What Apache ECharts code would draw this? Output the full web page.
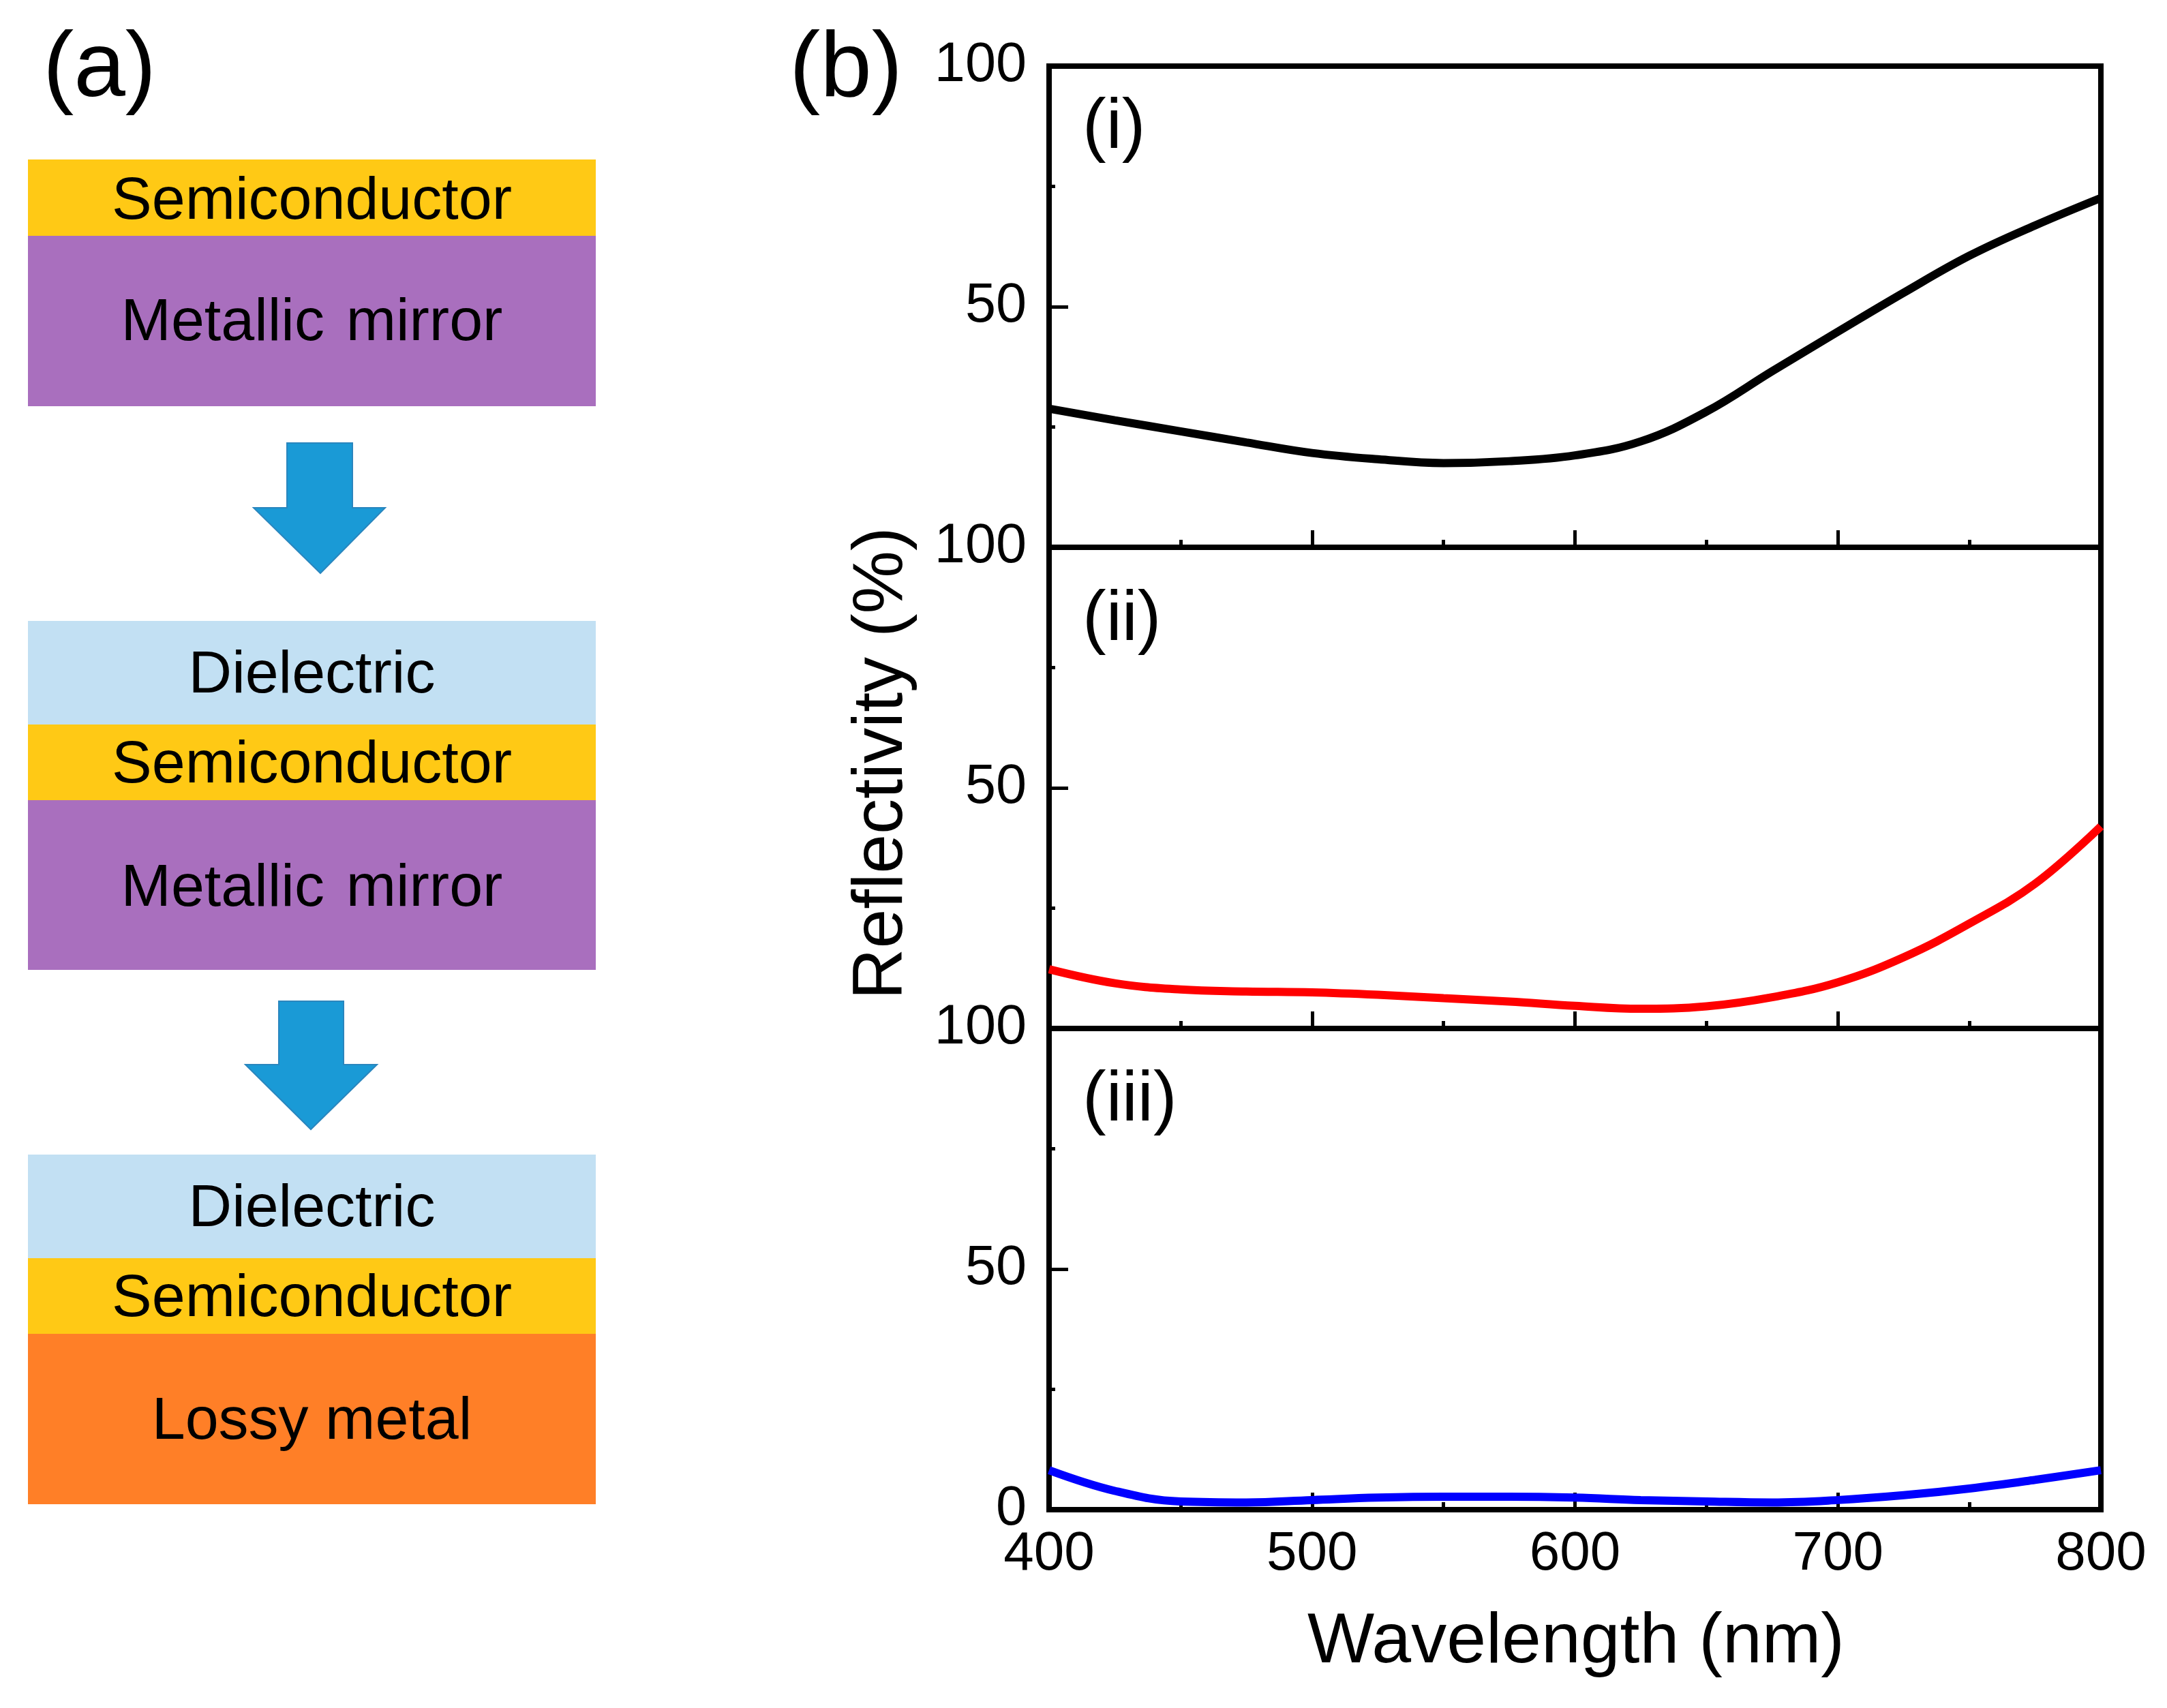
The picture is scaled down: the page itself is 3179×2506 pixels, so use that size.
<!DOCTYPE html>
<html>
<head>
<meta charset="utf-8">
<script src="https://cdn.jsdelivr.net/npm/echarts@6/dist/echarts.min.js"></script>
<style>
html,body{margin:0;padding:0;background:#fff;}
#chart{width:3179px;height:2506px;}
</style>
</head>
<body>
<div id="chart"></div>
<script>
// ---------------- data ----------------
const wavelengths = [400,425,450,475,500,525,550,575,600,625,650,675,700,725,750,775,800];
const reflI   = [28.8,26.4,24.1,21.8,19.6,18.3,17.5,17.9,19.1,22.0,28.2,36.6,44.8,52.9,60.6,66.9,72.6];
const reflII  = [12.3,9.4,8.1,7.7,7.5,7.0,6.3,5.6,4.7,4.1,4.6,6.5,9.6,14.8,21.8,30.1,42.0];
const reflIII = [8.2,3.9,1.7,1.5,2.0,2.5,2.7,2.7,2.5,2.0,1.7,1.5,2.0,3.0,4.4,6.2,8.2];
const panelLabels = ['(i)','(ii)','(iii)'];
const seriesColors = ['#000000','#ff0000','#0000ff'];
const xTitle = 'Wavelength (nm)';
const yTitle = 'Reflectivity (%)';
const stackLayers = [
  ['Semiconductor','Metallic mirror'],
  ['Dielectric','Semiconductor','Metallic mirror'],
  ['Dielectric','Semiconductor','Lossy metal']
];

// ---------------- layout / style ----------------
const FONT = '"Liberation Sans", Arial, Helvetica, sans-serif';
const GL = 1539, GW = 1543, GH = 706;
const tops = [97, 803, 1509];
const allData = [reflI, reflII, reflIII];

const grids = [], xAxes = [], yAxes = [], series = [];
for (let i = 0; i < 3; i++) {
  grids.push({left: GL, top: tops[i], width: GW, height: GH, show: true,
    borderColor: '#000', borderWidth: 8, backgroundColor: 'transparent', containLabel: false});
  xAxes.push({gridIndex: i, type: 'value', min: 400, max: 800, interval: 100,
    axisLine: {show: true, lineStyle: {color: '#000', width: 8}},
    axisTick: {show: true, inside: true, length: 25, lineStyle: {color: '#000', width: 5}},
    minorTick: {show: true, splitNumber: 2, length: 11, lineStyle: {color: '#000', width: 5}},
    splitLine: {show: false}, minorSplitLine: {show: false},
    axisLabel: {show: i === 2, margin: 26, fontSize: 80, fontFamily: FONT, color: '#000'}});
  yAxes.push({gridIndex: i, type: 'value', min: 0, max: 100, interval: 50,
    axisLine: {show: true, lineStyle: {color: '#000', width: 8}},
    axisTick: {show: true, inside: true, length: 28, lineStyle: {color: '#000', width: 5}},
    minorTick: {show: true, splitNumber: 2, length: 9, lineStyle: {color: '#000', width: 5}},
    splitLine: {show: false}, minorSplitLine: {show: false},
    axisLabel: {margin: 33, fontSize: 81, fontFamily: FONT, color: '#000',
      formatter: (v) => (i < 2 && v === 0) ? '' : String(v)}});
  series.push({type: 'line', xAxisIndex: i, yAxisIndex: i, smooth: 0.4,
    symbol: 'none', clip: true, lineStyle: {color: seriesColors[i], width: 12},
    data: wavelengths.map((w, k) => [w, allData[i][k]])});
}

// ---------------- diagram (a) ----------------
const layerColor = {
  'Semiconductor': '#FFC915',
  'Metallic mirror': '#A96FBE',
  'Dielectric': '#C2E0F3',
  'Lossy metal': '#FF7F27'
};
const BX = 41, BW = 833;
const stackEdges = [[234, 346, 596], [911, 1063, 1174, 1423], [1694, 1846, 1957, 2207]];
const textCenters = [[296, 474], [991, 1123, 1304], [1774, 1906, 2086]];
const graphics = [];
stackLayers.forEach((layers, s) => {
  layers.forEach((name, j) => {
    const y0 = stackEdges[s][j], y1 = stackEdges[s][j + 1];
    graphics.push({type: 'rect', shape: {x: BX, y: y0, width: BW, height: y1 - y0},
      style: {fill: layerColor[name]}, z: 10});
    graphics.push({type: 'text', x: BX + BW / 2, y: textCenters[s][j] + 1, z: 11,
      style: {text: name.replace(' mirror', ' \u200Amirror'), fontSize: 88, fontFamily: FONT, fill: '#000', align: 'center', verticalAlign: 'middle'}});
  });
});
function arrow(sx0, sx1, top, headTop, hx0, hx1, tipX, tipY) {
  return {type: 'polygon', z: 10,
    shape: {points: [[sx0, top], [sx1, top], [sx1, headTop], [hx1, headTop], [tipX, tipY], [hx0, headTop], [sx0, headTop]]},
    style: {fill: '#1A9AD6', stroke: '#2A86BE', lineWidth: 2}};
}
graphics.push(arrow(421, 517, 650, 745, 372, 565, 470, 841));
graphics.push(arrow(409, 504, 1469, 1562, 360, 553, 456, 1657));

// panel letters
graphics.push({type: 'text', x: 146, y: 103, z: 11,
  style: {text: '(a)', fontSize: 136, fontFamily: FONT, fill: '#000', align: 'center', verticalAlign: 'middle'}});
graphics.push({type: 'text', x: 1241, y: 103, z: 11,
  style: {text: '(b)', fontSize: 136, fontFamily: FONT, fill: '#000', align: 'center', verticalAlign: 'middle'}});

// sub-panel labels
const labelY = [188, 910, 1615];
panelLabels.forEach((t, i) => {
  graphics.push({type: 'text', x: 1588, y: labelY[i], z: 11,
    style: {text: t, fontSize: 104, fontFamily: FONT, fill: '#000', align: 'left', verticalAlign: 'middle'}});
});

// axis titles
graphics.push({type: 'text', x: 2312, y: 2410, z: 11,
  style: {text: xTitle, fontSize: 104, fontFamily: FONT, fill: '#000', align: 'center', verticalAlign: 'middle'}});
graphics.push({type: 'text', x: 1294, y: 1120, rotation: Math.PI / 2, z: 11,
  style: {text: yTitle, fontSize: 104, fontFamily: FONT, fill: '#000', align: 'center', verticalAlign: 'middle'}});

const chart = echarts.init(document.getElementById('chart'), null, {renderer: 'canvas', width: 3179, height: 2506});
chart.setOption({
  backgroundColor: '#ffffff',
  animation: false,
  grid: grids,
  xAxis: xAxes,
  yAxis: yAxes,
  series: series,
  graphic: graphics
});
</script>
</body>
</html>
